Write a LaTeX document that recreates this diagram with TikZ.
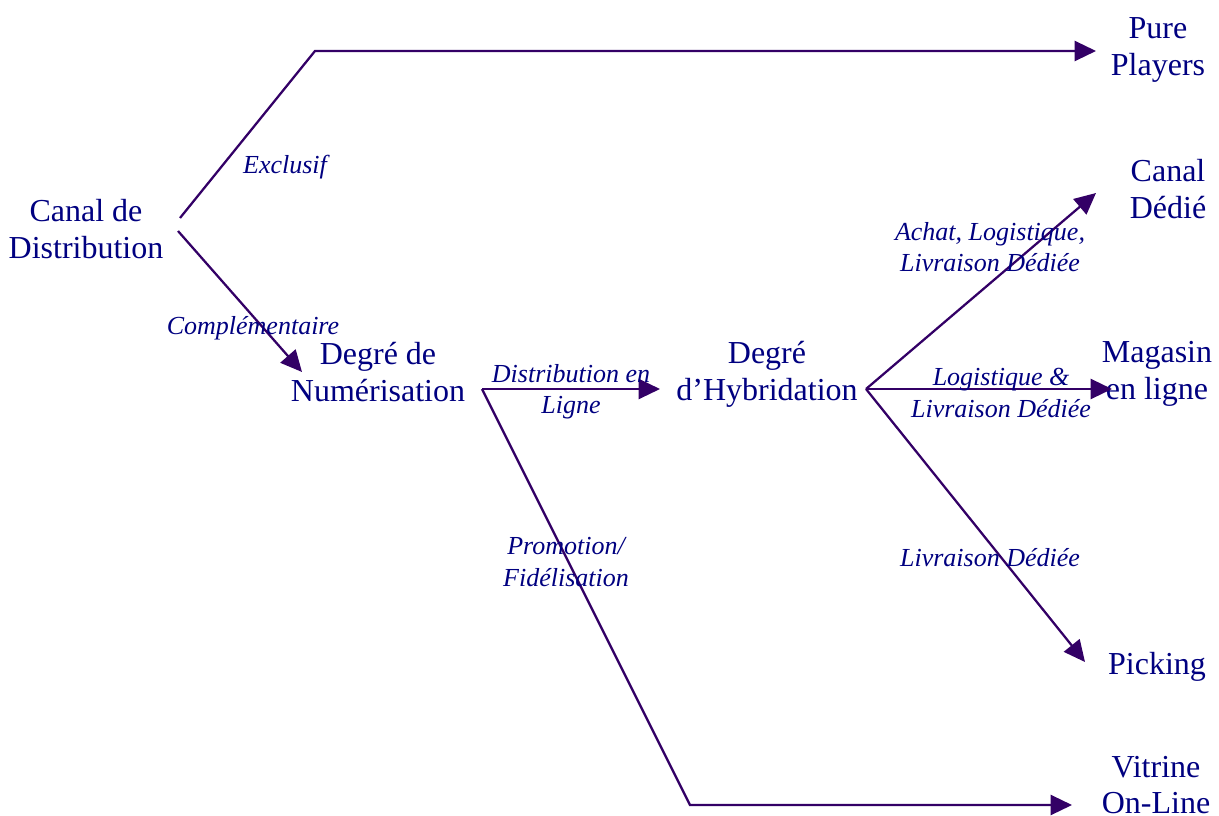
\documentclass[tikz,border=0pt]{standalone}
\usepackage{fontspec}
\setmainfont{Liberation Serif}
\usetikzlibrary{arrows.meta}
\definecolor{txt}{HTML}{000080}
\definecolor{ln}{HTML}{330066}
\tikzset{
  term/.style={text=txt, align=center, inner sep=0pt, font=\fontsize{24}{27.5}\selectfont},
  lbl/.style={text=txt, align=center, inner sep=0pt, font=\fontsize{19.5}{23.5}\selectfont\itshape},
  link/.style={draw=ln, line width=1.7pt},
  arr/.style={link, -{Triangle[length=16pt,width=15pt]}}
}
\begin{document}
\begin{tikzpicture}[x=0.75pt, y=-0.75pt]
\useasboundingbox (0,0) rectangle (1219,816);

% terms
\node[term] (canal) at (86,229) {Canal de\\Distribution};
\node[term] (pure) at (1158,50) {Pure\\Players};
\node[term] (dedie) at (1168,189) {Canal\\Dédié};
\node[term] (magasin) at (1157,374) {Magasin\\en ligne};
\node[term] (picking) at (1157,667) {Picking};
\node[term] (vitrine) at (1156,785) {Vitrine\\On-Line};
\node[term] (numer) at (378,372) {Degré de\\Numérisation};
\node[term] (hybr) at (767,374) {Degré\\d’Hybridation};

% anchor points of the connectors
\coordinate (cUp) at (180,218);
\coordinate (cBend) at (315,51);
\coordinate (cPure) at (1096,51);
\coordinate (cDown) at (178,231);
\coordinate (cNum) at (302,372);
\coordinate (nOut) at (482,389);
\coordinate (nHyb) at (660,389);
\coordinate (nBend) at (690,805);
\coordinate (nVit) at (1072,805);
\coordinate (hOut) at (866,389);
\coordinate (hDed) at (1096,193);
\coordinate (hMag) at (1112,389);
\coordinate (hPick) at (1085,662);

% connectors
\draw[arr] (cUp) -- (cBend) -- (cPure);
\draw[arr] (cDown) -- (cNum);
\draw[arr] (nOut) -- (nHyb);
\draw[arr] (nOut) -- (nBend) -- (nVit);
\draw[arr] (hOut) -- (hDed);
\draw[arr] (hOut) -- (hMag);
\draw[arr] (hOut) -- (hPick);

% connector labels
\node[lbl] (lExcl) at (285,167) {Exclusif};
\node[lbl] (lComp) at (253,328) {Complémentaire};
\node[lbl] (lDist) at (571,392) {Distribution en\\Ligne};
\node[lbl] (lProm) at (566,562) {Promotion/\\Fidélisation};
\node[lbl] (lAchat) at (990,247) {Achat, Logistique,\\Livraison Dédiée};
\node[lbl] (lLog) at (1001,393) {Logistique \&\\Livraison Dédiée};
\node[lbl] (lLiv) at (990,558) {Livraison Dédiée};
\end{tikzpicture}
\end{document}
